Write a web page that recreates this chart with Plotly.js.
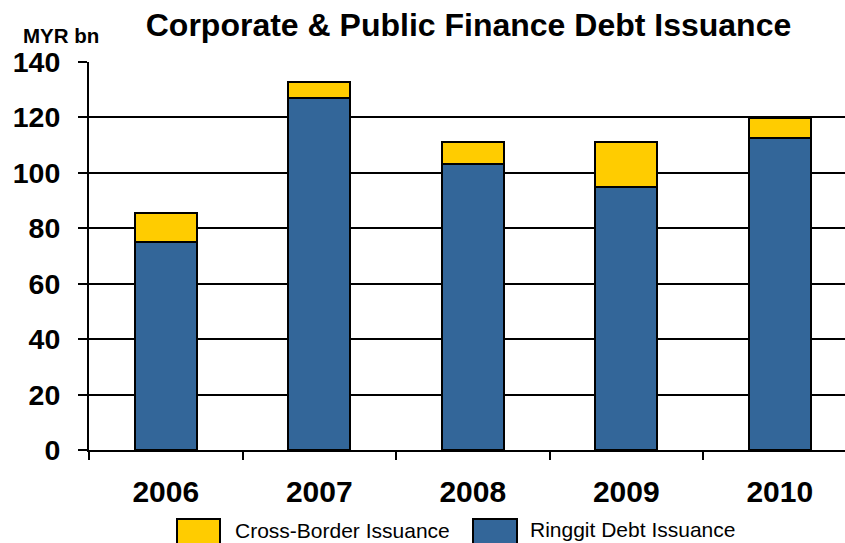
<!DOCTYPE html>
<html>
<head>
<meta charset="utf-8">
<script src="https://cdn.plot.ly/plotly-3.0.1.min.js"></script>
<style>html,body{margin:0;padding:0;background:#fff;}#chart{width:845px;height:543px;}</style>
</head>
<body>
<div id="chart"></div>
<script>
// ---- Data (MYR bn) ----
const years = ['2006', '2007', '2008', '2009', '2010'];
const ringgitDebt = [75.1, 127.0, 103.1, 95.0, 112.7];
const crossBorder = [10.3, 5.8, 8.2, 16.1, 7.2];
const seriesNames = ['Cross-Border Issuance', 'Ringgit Debt Issuance'];
const yTicks = [0, 20, 40, 60, 80, 100, 120, 140];

const BLUE = '#336699';
const YELLOW = '#FFCC00';
const FONT = 'Liberation Sans, Arial, sans-serif';

// plot-area geometry helpers (pixels -> paper)
const W = 845, H = 543;
const M = {l: 89, r: 0, t: 62, b: 93};
const PW = W - M.l - M.r, PH = H - M.t - M.b;
const px = x => (x - M.l) / PW;
const py = y => (H - M.b - y) / PH;

const traces = [
  {type: 'bar', name: seriesNames[1], x: years, y: ringgitDebt,
   marker: {color: BLUE, line: {color: '#000', width: 2}}, hoverinfo: 'x+y+name'},
  {type: 'bar', name: seriesNames[0], x: years, y: crossBorder,
   marker: {color: YELLOW, line: {color: '#000', width: 2}}, hoverinfo: 'x+y+name'}
];

const layout = {
  width: W, height: H,
  margin: {l: M.l, r: M.r, t: M.t, b: M.b, pad: 0},
  paper_bgcolor: '#fff', plot_bgcolor: '#fff',
  barmode: 'stack', bargap: 0.596,
  showlegend: false,
  font: {family: FONT, color: '#000'},
  title: {text: 'Corporate & Public Finance Debt Issuance',
          font: {family: FONT, size: 32, weight: 'bold', color: '#000'},
          xref: 'container', yref: 'container', x: 468.5 / W, xanchor: 'center',
          y: 1 - 25 / H, yanchor: 'middle'},
  xaxis: {type: 'category', range: [-0.5, 4.425], tickson: 'boundaries',
          ticks: 'outside', ticklen: 8, tickwidth: 2, tickcolor: '#000',
          showline: true, linecolor: '#000', linewidth: 2, showgrid: false,
          ticklabelstandoff: 14,
          tickfont: {family: FONT, size: 30, weight: 'bold', color: '#000'}},
  yaxis: {range: [0, 140], tickmode: 'array', tickvals: yTicks, ticktext: yTicks.map(String),
          ticks: 'outside', ticklen: 9, tickwidth: 2, tickcolor: '#000',
          showline: true, linecolor: '#000', linewidth: 2,
          showgrid: true, gridcolor: '#000', gridwidth: 2, zeroline: false,
          ticklabelstandoff: 12,
          tickfont: {family: FONT, size: 28.5, weight: 'bold', color: '#000'}},
  shapes: [
    {type: 'rect', xref: 'paper', yref: 'paper', x0: px(177), x1: px(220), y0: py(546), y1: py(519),
     fillcolor: YELLOW, line: {color: '#000', width: 2}},
    {type: 'rect', xref: 'paper', yref: 'paper', x0: px(473), x1: px(517), y0: py(546), y1: py(519),
     fillcolor: BLUE, line: {color: '#000', width: 2}}
  ],
  annotations: [
    {text: 'MYR bn', xref: 'paper', yref: 'paper', x: px(61), y: py(35), xanchor: 'center', yanchor: 'middle',
     showarrow: false, font: {family: FONT, size: 20.5, weight: 'bold', color: '#000'}},
    {text: seriesNames[0], xref: 'paper', yref: 'paper', x: px(233), y: py(530), xanchor: 'left', yanchor: 'middle',
     showarrow: false, font: {family: FONT, size: 21, color: '#000'}},
    {text: seriesNames[1], xref: 'paper', yref: 'paper', x: px(528), y: py(529), xanchor: 'left', yanchor: 'middle',
     showarrow: false, font: {family: FONT, size: 21, color: '#000'}}
  ]
};

Plotly.newPlot('chart', traces, layout, {displayModeBar: false, staticPlot: true});
</script>
</body>
</html>
